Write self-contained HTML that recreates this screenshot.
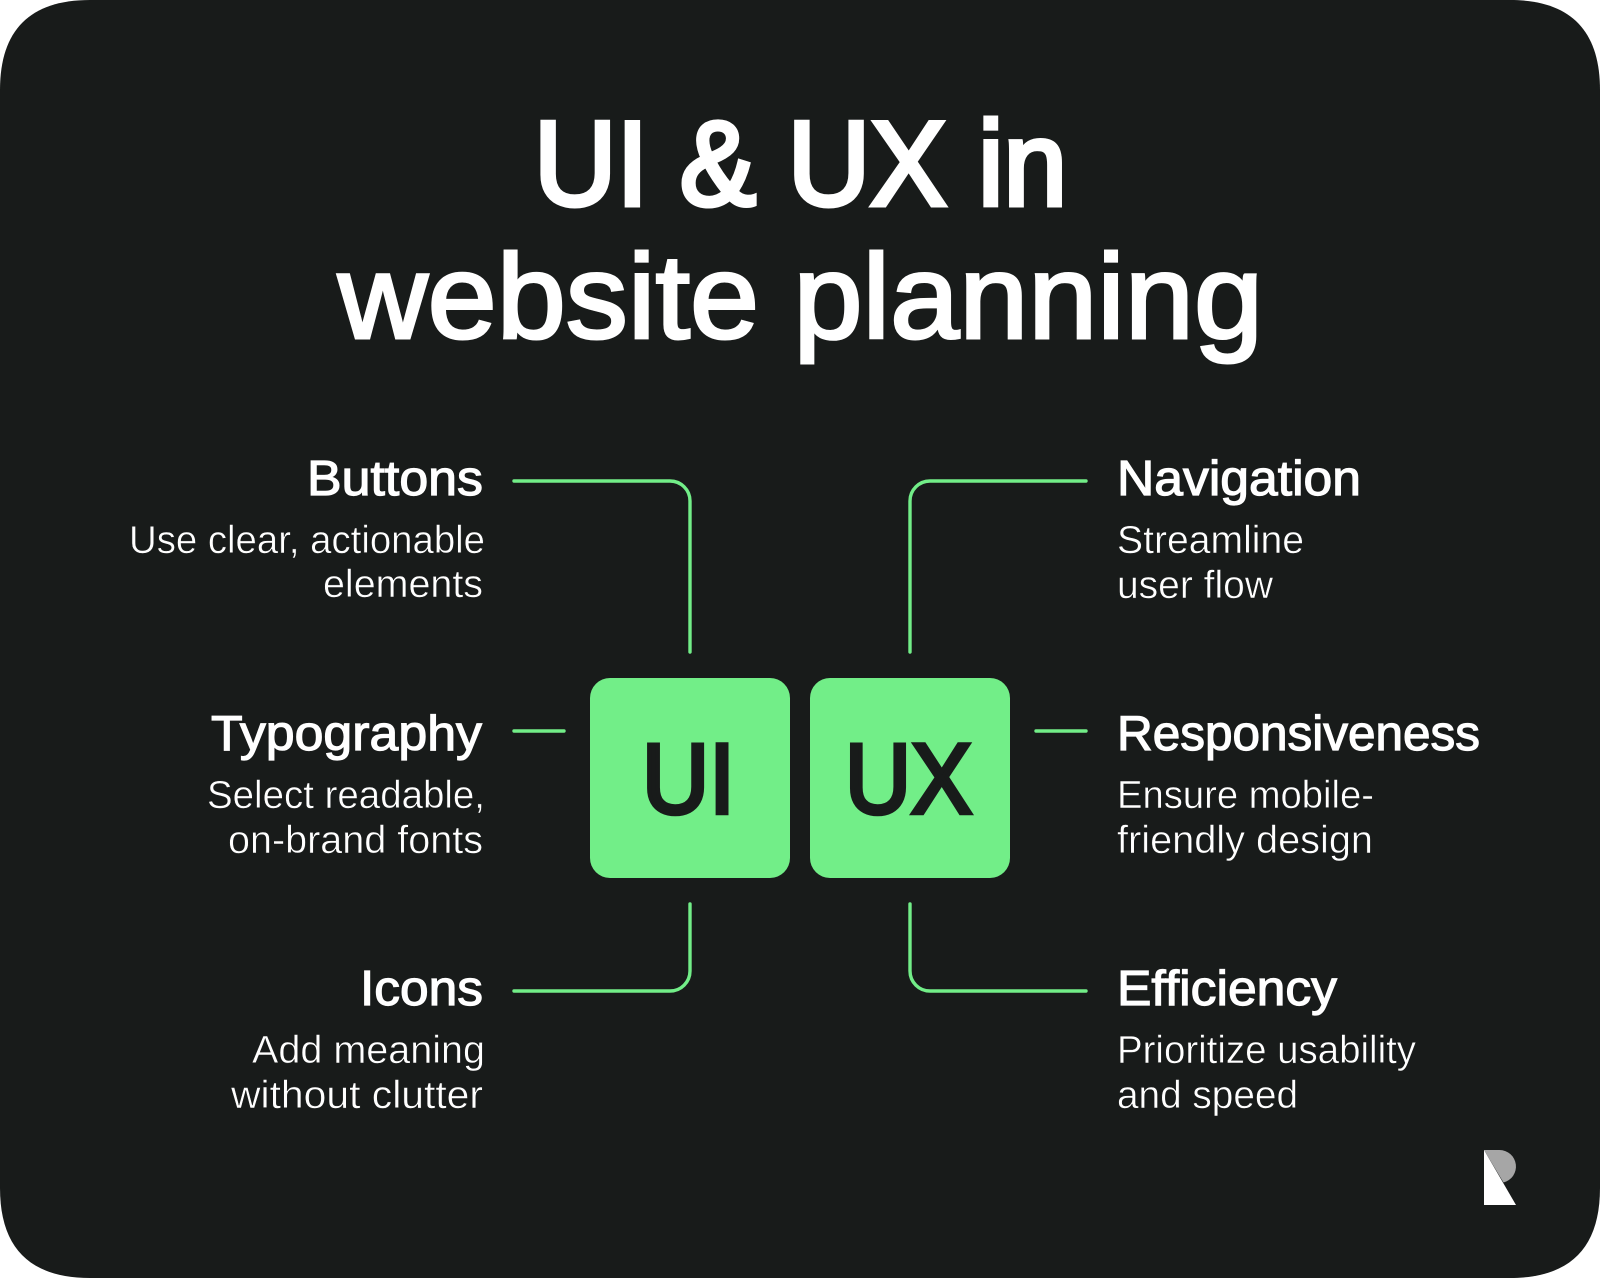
<!DOCTYPE html>
<html lang="en"><head><meta charset="utf-8"><title>UI &amp; UX in website planning</title>
<style>
html,body{margin:0;padding:0;background:#fff;width:1600px;height:1278px;overflow:hidden}
svg{display:block}
text{font-family:"Liberation Sans",Arial,sans-serif;fill:#fff}
.t{font-size:120px;stroke:#fff;stroke-width:3px}
.t1{stroke-width:5px}
.h{font-size:49px;stroke:#fff;stroke-width:1.2px}
.d{font-size:39px;stroke:#181b1a;stroke-width:.5px}
.b{font-size:99px;fill:#181b1a;stroke:#181b1a;stroke-width:4.5px}
.l{fill:none;stroke:#72ee88;stroke-width:3.4;stroke-linecap:round}
</style></head><body>
<svg width="1600" height="1278" viewBox="0 0 1600 1278" xmlns="http://www.w3.org/2000/svg">
<rect width="1600" height="1278" fill="#fff"/>
<path fill="#181b1a" d="M90 0H1510C1570 0 1600 30 1600 90V1188C1600 1248 1570 1278 1510 1278H90C30 1278 0 1248 0 1188V90C0 30 30 0 90 0Z"/>

<text class="t t1" x="534" y="205" textLength="533" lengthAdjust="spacingAndGlyphs">UI &amp; UX in</text>
<text class="t" x="338" y="338" textLength="925" lengthAdjust="spacingAndGlyphs">website planning</text>

<path class="l" d="M514 481H670a20 20 0 0 1 20 20V652"/>
<path class="l" d="M514 731H564"/>
<path class="l" d="M514 991H670a20 20 0 0 0 20-20V904"/>
<path class="l" d="M1086 481H930a20 20 0 0 0-20 20V652"/>
<path class="l" d="M1036 731H1086"/>
<path class="l" d="M1086 991H930a20 20 0 0 1-20-20V904"/>

<rect x="590" y="678" width="200" height="200" rx="20" fill="#72ee88"/>
<rect x="810" y="678" width="200" height="200" rx="20" fill="#72ee88"/>
<text class="b" x="642" y="813" textLength="93" lengthAdjust="spacingAndGlyphs">UI</text>
<text class="b" x="845" y="813" textLength="127" lengthAdjust="spacingAndGlyphs">UX</text>

<text class="h" x="307" y="495" textLength="176" lengthAdjust="spacingAndGlyphs">Buttons</text>
<text class="d" x="129" y="553" textLength="356" lengthAdjust="spacingAndGlyphs">Use clear, actionable</text>
<text class="d" x="323" y="597" textLength="160" lengthAdjust="spacingAndGlyphs">elements</text>

<text class="h" x="211" y="750" textLength="271" lengthAdjust="spacingAndGlyphs">Typography</text>
<text class="d" x="207" y="808" textLength="278" lengthAdjust="spacingAndGlyphs">Select readable,</text>
<text class="d" x="228" y="853" textLength="255" lengthAdjust="spacingAndGlyphs">on-brand fonts</text>

<text class="h" x="360" y="1005" textLength="123" lengthAdjust="spacingAndGlyphs">Icons</text>
<text class="d" x="252" y="1063" textLength="233" lengthAdjust="spacingAndGlyphs">Add meaning</text>
<text class="d" x="231" y="1108" textLength="252" lengthAdjust="spacingAndGlyphs">without clutter</text>

<text class="h" x="1117" y="495" textLength="244" lengthAdjust="spacingAndGlyphs">Navigation</text>
<text class="d" x="1117" y="553" textLength="187" lengthAdjust="spacingAndGlyphs">Streamline</text>
<text class="d" x="1117" y="598" textLength="156" lengthAdjust="spacingAndGlyphs">user flow</text>

<text class="h" x="1117" y="750" textLength="363" lengthAdjust="spacingAndGlyphs">Responsiveness</text>
<text class="d" x="1117" y="808" textLength="257" lengthAdjust="spacingAndGlyphs">Ensure mobile-</text>
<text class="d" x="1117" y="853" textLength="256" lengthAdjust="spacingAndGlyphs">friendly design</text>

<text class="h" x="1117" y="1005" textLength="220" lengthAdjust="spacingAndGlyphs">Efficiency</text>
<text class="d" x="1117" y="1063" textLength="299" lengthAdjust="spacingAndGlyphs">Prioritize usability</text>
<text class="d" x="1117" y="1108" textLength="181" lengthAdjust="spacingAndGlyphs">and speed</text>

<path fill="#a6a6a6" d="M1484 1150H1499.500A16.500 16.500 0 0 1 1503.500 1182.500Z"/>
<path fill="#fff" d="M1484 1150L1516 1205H1484Z"/>
</svg>
</body></html>
